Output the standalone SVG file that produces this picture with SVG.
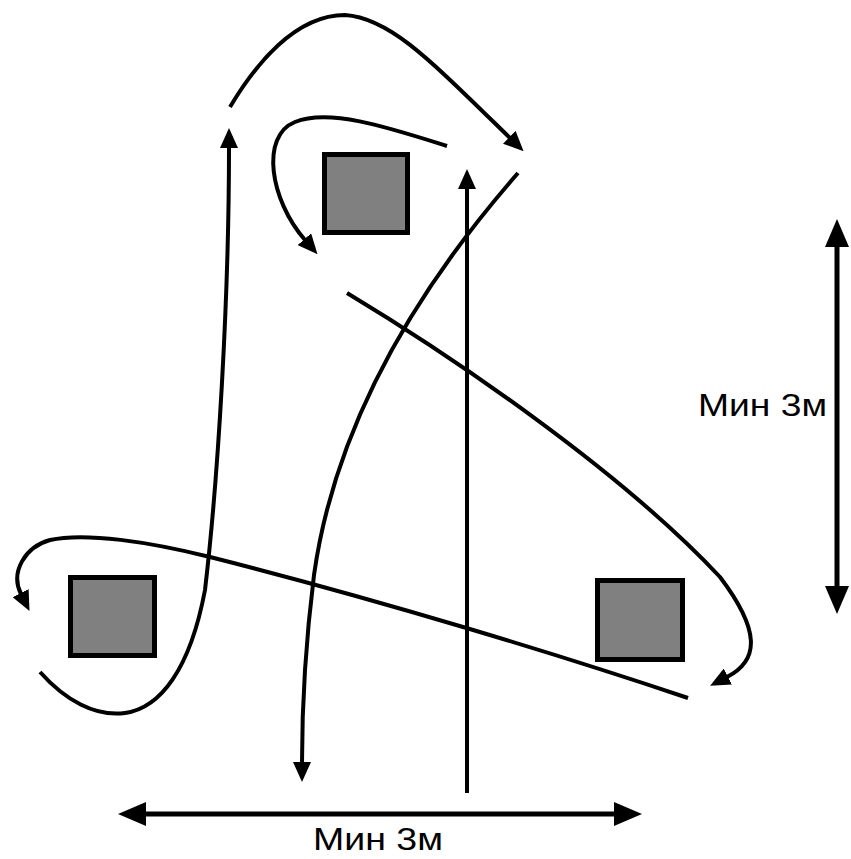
<svg xmlns="http://www.w3.org/2000/svg" width="851" height="859" viewBox="0 0 851 859">
<style>
.c{fill:none;stroke:#000;stroke-width:4;stroke-linecap:butt}
.d{fill:none;stroke:#000;stroke-width:5}
.sq{fill:#808080;stroke:#000;stroke-width:5}
.t{font-family:"Liberation Sans","Noto Sans",sans-serif;font-size:32px;fill:#000}
</style>
<defs>
<marker id="ah" viewBox="0 0 20 18" markerWidth="20" markerHeight="18" refX="1" refY="9" orient="auto" markerUnits="userSpaceOnUse"><path d="M0,0 L20,9 L0,18 z" fill="#000"/></marker>
<marker id="big" viewBox="0 0 28 24" markerWidth="28" markerHeight="24" refX="1" refY="12" orient="auto-start-reverse" markerUnits="userSpaceOnUse"><path d="M0,0 L28,12 L0,24 z" fill="#000"/></marker>
</defs>
<rect width="851" height="859" fill="#fff"/>
<g id="square-top"><rect class="sq" x="324.5" y="154.5" width="83" height="78"/></g>
<g id="square-left"><rect class="sq" x="70.5" y="577.5" width="84" height="78"/></g>
<g id="square-right"><rect class="sq" x="597.5" y="580.5" width="85" height="79"/></g>
<g id="connectors">
<path class="c" marker-end="url(#ah)" d="M40,672 C65,700 95,717 125,713 C160,708 190,670 205,590 C218,480 229,300 229,147"/>
<path class="c" marker-end="url(#ah)" d="M230,107 C255,65 295,15 345,15 C390,18 430,60 510,138"/>
<path class="c" marker-end="url(#ah)" d="M447,146 C390,128 330,108 295,122 C260,136 270,200 305,240"/>
<path class="c" marker-end="url(#ah)" d="M518,173 C455,245 340,390 314,575 C309,615 302,680 302,763"/>
<path class="c" marker-end="url(#ah)" d="M467,793 L467,188"/>
<path class="c" marker-end="url(#ah)" d="M347,293 C450,355 620,470 720,577 C760,630 760,660 727,677"/>
<path class="c" marker-end="url(#ah)" d="M688,698 C560,655 380,600 210,557 C150,542 85,532 50,540 C25,547 10,572 21,594"/>
<path class="d" marker-start="url(#big)" marker-end="url(#big)" d="M837,246 L837,587"/>
<path class="d" marker-start="url(#big)" marker-end="url(#big)" d="M145,814 L615,814"/>
</g>
<g id="labels">
<text class="t" x="698" y="416" textLength="129" lengthAdjust="spacingAndGlyphs">Мин 3м</text>
<text class="t" x="313" y="850" textLength="130" lengthAdjust="spacingAndGlyphs">Мин 3м</text>
</g>
</svg>
